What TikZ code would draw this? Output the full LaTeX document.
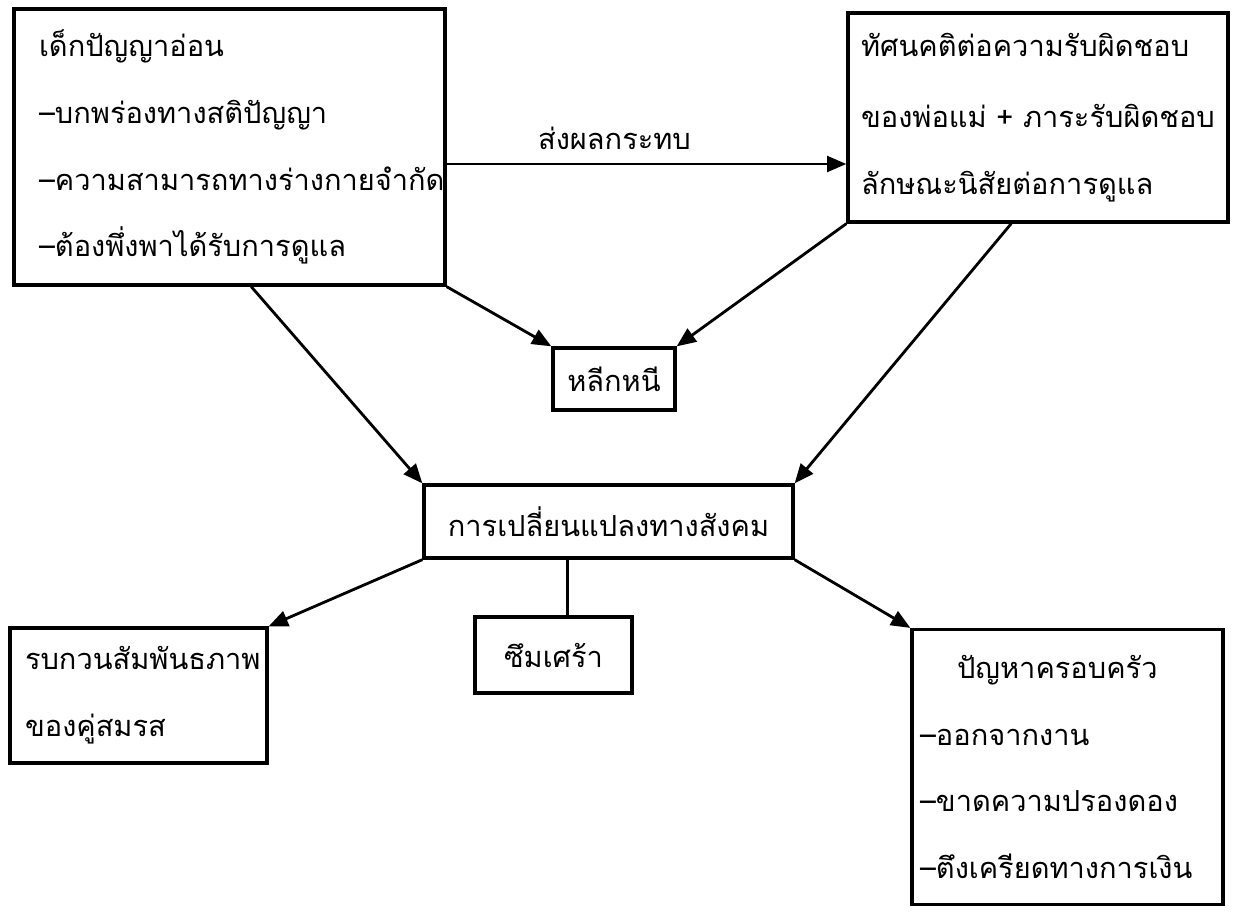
\documentclass[tikz,border=0pt]{standalone}
\usepackage{fontspec}
\newfontfamily\thaifont[Script=Thai]{Loma}
\usetikzlibrary{arrows.meta,calc}
\exhyphenpenalty=10000
\hyphenpenalty=10000

\tikzset{
  box/.style={draw, line width=1.9pt, inner sep=0pt, font=\thaifont\fontsize{16.5}{38}\selectfont},
  listbox/.style={box, align=left},
  arr/.style={line width=1.6pt, -{Triangle[length=11pt,width=9pt]}},
}

\begin{document}
\begin{tikzpicture}[x=0.02cm,y=-0.02cm]
            \useasboundingbox (0,0) rectangle (1233,913);

            %top row
            \node[listbox, minimum width=8.62cm, minimum height=5.52cm, inner xsep=0.5cm, text width=7.62cm] (kid) at (229.5,147)
              {เด็กปัญญาอ่อน\\–บกพร่องทางสติปัญญา\\–ความสามารถทางร่างกายจำกัด\\–ต้องพึ่งพาได้รับการดูแล};

            \node[listbox, minimum width=7.6cm, minimum height=4.18cm, inner xsep=0.26cm, text width=7.08cm] (parent) at (1038,117.5)
              {ทัศนคติต่อความรับผิดชอบ\\[0.1cm]ของพ่อแม่~+~ภาระรับผิดชอบ\\ลักษณะนิสัยต่อการดูแล};

            \coordinate (effect) at ([yshift=-0.34cm]kid.east);
            \draw[arr] (effect) -- (effect -| parent.west)
              node[pos=0.42, above=4pt, font=\thaifont\fontsize{16.5}{20}\selectfont] (effectlbl) {ส่งผลกระทบ};

            %middle
            \node[box, minimum width=2.44cm, minimum height=1.24cm] (avoid) at (614,379) {หลีกหนี};

            \node[box, minimum width=7.38cm, minimum height=1.46cm] (social) at (608.5,521.5) {การเปลี่ยนแปลงทางสังคม};

            \draw[arr] (kid.south east) -- (avoid.north west);
            \draw[arr] (parent.south west) -- (avoid.north east);

            \draw[arr] ($(kid.south west)!0.55!(kid.south east)$) -- (social.north west);
            \draw[arr] ($(parent.south west)!0.43!(parent.south east)$) -- (social.north east);

            %bottom row
            \node[listbox, minimum width=5.14cm, minimum height=2.7cm, inner xsep=0.3cm, text width=4.54cm] (couple) at (138.5,695.5)
              {รบกวนสัมพันธภาพ\\ของคู่สมรส};

            \node[box, minimum width=3.14cm, minimum height=1.52cm] (sad) at (553.5,655) {ซึมเศร้า};

            \node[listbox, minimum width=6.22cm, minimum height=5.5cm, inner xsep=0.16cm, text width=5.9cm] (family) at (1067.5,767)
              {\hspace{0.74cm}ปัญหาครอบครัว\\–ออกจากงาน\\–ขาดความปรองดอง\\–ตึงเครียดทางการเงิน};

            \draw[arr] (social.south west) -- (couple.north east);
            \draw[arr] (social.south east) -- (family.north west);

            \coordinate (drop) at ($(social.south west)!0.39!(social.south east)$);
            \draw[line width=1.6pt] (drop) -- (drop |- sad.north);
        \end{tikzpicture}
\end{document}
